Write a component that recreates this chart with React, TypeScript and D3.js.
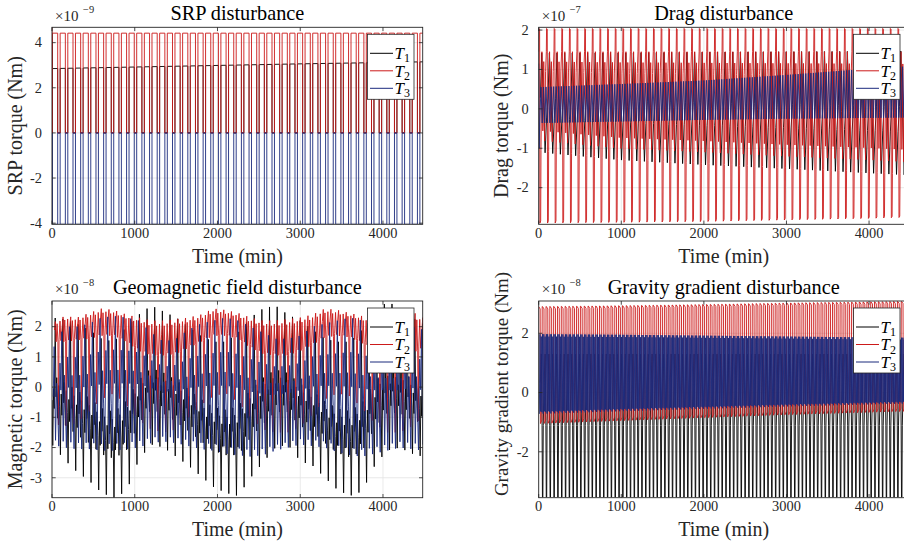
import React from "react";
import * as d3 from "d3";

// ---------------- common ----------------
const X_MAX = 4480;
const xTickValues = [0, 1000, 2000, 3000, 4000];
const seriesColors = ["#000000", "#cc1a1a", "#1b2a7d"];
const legendIndex = ["1", "2", "3"];

// ---------------- SRP disturbance (x1e-9 Nm) ----------------
const srpYDomain = [-4.05, 4.68];
const srpYTicks = [-4, -2, 0, 2, 4];
const srpPeriod = 92.5;
const srpSunFraction = 0.68;
const srpKnots = [0, 1000, 2000, 3000, 4000, 4480];
const srpZero = [0, 0, 0, 0, 0, 0];
const srpT1On = [2.85, 2.92, 2.99, 3.06, 3.12, 3.15];
const srpT2On = [4.42, 4.42, 4.42, 4.42, 4.42, 4.42];
const srpT3On = [-4.05, -4.05, -4.05, -4.05, -4.05, -4.05];
const srpShape: [number, number][] = [[0, 0], [0, 1], [srpSunFraction, 1], [srpSunFraction, 0]];
const srpT1Lead: [number, number][] = [[0, 4.05], [4, 4.05], [4, 0]];
const srpT2Lead: [number, number][] = [[0, 4.68], [1, 0]];

// ---------------- Drag disturbance (x1e-7 Nm) ----------------
const dragYDomain = [-2.93, 2.07];
const dragYTicks = [-2, -1, 0, 1, 2];
const dragPeriod = 92.5;
const dragKnots = [0, 1000, 2000, 3000, 4000, 4480];
const dragT1Low = [-1.1, -1.3, -1.42, -1.52, -1.63, -1.68];
const dragT1High = [1.42, 1.42, 1.44, 1.45, 1.46, 1.47];
const dragT2Low = [-2.9, -2.88, -2.86, -2.82, -2.78, -2.75];
const dragT2LowerBand = [-1.05, -1.28, -1.38, -1.5, -1.6, -1.66];
const dragT2UpperBand = [1.45, 1.45, 1.45, 1.45, 1.45, 1.45];
const dragT2High = [2.04, 2.04, 2.04, 2.04, 2.04, 2.04];
const dragT3Low = [-0.36, -0.32, -0.28, -0.25, -0.23, -0.22];
const dragT3High = [0.55, 0.63, 0.72, 0.86, 1.02, 1.08];
const dragT1Shape: [number, number][] = [[0, 0.55], [0.18, 1], [0.42, 0.5], [0.62, 0], [0.82, 0.35]];
const dragT2Shape: [number, number][] = [[0, 2], [0.03, 3], [0.12, 2.97], [0.16, 0], [0.26, 0.03], [0.3, 1], [0.42, 2], [0.54, 1.2], [0.66, 1.9], [0.78, 1.1], [0.9, 1.8]];
const dragT3Shape: [number, number][] = [[0, 0], [0.17, 1], [0.33, 0], [0.5, 1], [0.67, 0], [0.83, 1]];
const dragT3Lead: [number, number][] = [[0, 1.15], [6, -1.0]];

// ---------------- Geomagnetic field disturbance (x1e-8 Nm) ----------------
const magYDomain = [-3.66, 2.85];
const magYTicks = [-3, -2, -1, 0, 1, 2];
const magPeriod = 92.5;
const magKnots = [0, 150, 300, 450, 600, 750, 900, 1050, 1200, 1350, 1500, 1650, 1800, 1950, 2100, 2250,
  2400, 2550, 2700, 2850, 3000, 3150, 3300, 3450, 3600, 3750, 3900, 4050, 4200, 4350, 4480];
const magT1Low = [-1.9, -2.4, -2.8, -3.1, -3.5, -3.66, -3.45, -2.4, -1.9, -2.0, -2.3, -2.6, -2.95, -3.3, -3.5, -3.6,
  -3.0, -2.5, -2.0, -1.9, -2.45, -2.6, -3.0, -3.4, -3.6, -3.45, -2.6, -2.1, -2.0, -2.2, -2.3];
const magT1High = [2.3, 2.25, 2.1, 1.9, 1.6, 1.5, 2.0, 2.4, 2.7, 2.5, 2.3, 2.0, 1.7, 1.5, 1.5, 1.8,
  2.3, 2.6, 2.7, 2.4, 2.2, 1.9, 1.6, 1.5, 1.5, 1.9, 2.4, 2.85, 2.6, 2.3, 2.1];
const magT2Dip = [-1.2, -1.3, -1.2, -0.8, -0.4, -0.2, -0.6, -1.1, -1.4, -1.5, -1.4, -1.0, -0.6, -0.3, -0.2, -0.5,
  -1.0, -1.4, -1.5, -1.5, -1.3, -0.9, -0.4, -0.2, -0.3, -0.7, -1.2, -1.5, -1.5, -1.3, -1.0];
const magT2Trough = [1.5, 1.5, 1.55, 1.6, 1.7, 1.7, 1.5, 1.2, 1.05, 1.05, 1.1, 1.3, 1.5, 1.7, 1.7, 1.6,
  1.3, 1.1, 1.05, 1.05, 1.2, 1.4, 1.65, 1.7, 1.65, 1.45, 1.2, 1.05, 1.05, 1.15, 1.25];
const magT2High = [2.1, 2.35, 2.3, 2.45, 2.6, 2.55, 2.4, 2.3, 2.2, 2.2, 2.25, 2.3, 2.4, 2.6, 2.55, 2.45,
  2.3, 2.2, 2.2, 2.25, 2.3, 2.4, 2.6, 2.55, 2.45, 2.35, 2.2, 2.2, 2.35, 2.5, 2.3];
const magT3Low = [-1.9, -2.0, -2.05, -2.05, -2.1, -2.1, -2.05, -2.0, -1.85, -1.8, -1.85, -1.95, -2.05, -2.1, -2.2, -2.25,
  -2.3, -2.25, -2.1, -2.0, -1.9, -1.95, -2.0, -2.15, -2.25, -2.3, -2.2, -2.1, -2.0, -2.05, -2.1];
const magT3High = [1.2, 2.0, 2.0, 2.1, 2.3, 2.35, 2.3, 2.2, 1.8, 1.5, 1.6, 1.9, 2.1, 2.2, 2.3, 2.2,
  2.0, 1.8, 1.6, 1.6, 1.7, 2.0, 2.1, 2.2, 2.3, 2.2, 2.0, 1.9, 1.8, 2.0, 1.9];
const magT1Shape: [number, number][] = [[0, 0.35], [0.1, 0], [0.2, 0.45], [0.3, 0.3], [0.42, 1], [0.52, 0.4], [0.62, 0.55], [0.75, 0.25], [0.87, 0.5]];
const magT2Shape: [number, number][] = [[0, 1.6], [0.12, 2], [0.22, 1], [0.34, 1.85], [0.45, 1], [0.52, 0], [0.6, 1.1], [0.72, 1.9], [0.84, 1.05]];
const magT3Shape: [number, number][] = [[0, 0.5], [0.12, 1], [0.3, 0.05], [0.45, 0.6], [0.58, 0.35], [0.72, 0], [0.88, 0.75]];

// ---------------- Gravity gradient disturbance (x1e-8 Nm) ----------------
const ggYDomain = [-3.55, 3.09];
const ggYTicks = [-2, 0, 2];
const ggPeriod = 46.25;
const ggKnots = [0, 1000, 2000, 3000, 4000, 4480];
const ggT1Low = [-3.53, -3.53, -3.53, -3.53, -3.53, -3.53];
const ggT1High = [1.3, 1.3, 1.3, 1.3, 1.3, 1.3];
const ggT2Low = [-1.05, -0.95, -0.85, -0.75, -0.67, -0.63];
const ggT2High = [2.9, 2.93, 2.97, 3.02, 3.06, 3.08];
const ggT3Low = [-0.72, -0.63, -0.55, -0.47, -0.4, -0.37];
const ggT3High = [1.97, 1.95, 1.92, 1.89, 1.86, 1.85];
const ggT1Shape: [number, number][] = [[0, 0.8], [0.25, 1], [0.45, 0.5], [0.55, 0], [0.66, 0], [0.76, 0.5]];
const ggT2Shape: [number, number][] = [[0, 1], [0.38, 0.98], [0.46, 0], [0.84, 0.03], [0.92, 1]];
const ggT3Shape: [number, number][] = [[0, 0], [0.17, 1], [0.33, 0.03], [0.5, 0.97], [0.67, 0.02], [0.83, 1]];

// ---------------- helpers ----------------
interface SeriesSpec {
  knots: number[];
  envs: number[][];
  shape: [number, number][];
  period: number;
  start: number;
  lead?: [number, number][];
}

function buildPoints(s: SeriesSpec): [number, number][] {
  const scales = s.envs.map((e) => d3.scaleLinear().domain(s.knots).range(e).clamp(true));
  const pts: [number, number][] = s.lead ? s.lead.slice() : [];
  const n = Math.ceil((X_MAX - s.start) / s.period) + 1;
  for (let k = 0; k < n; k++) {
    for (const [ph, lev] of s.shape) {
      const t = s.start + (k + ph) * s.period;
      const i = Math.min(Math.floor(lev), scales.length - 2);
      const f = lev - i;
      const v = scales[i](t) * (1 - f) + scales[i + 1](t) * f;
      pts.push([t, v]);
    }
  }
  return pts;
}

interface Box { x0: number; x1: number; y0: number; y1: number; }

interface PanelProps {
  id: string;
  box: Box;
  yDomain: number[];
  yTicks: number[];
  title: string;
  ylabel: string;
  ylabelY?: number;
  ylabelSize?: number;
  exponent: string;
  series: SeriesSpec[];
}

const FONT = "'Liberation Serif', 'DejaVu Serif', serif";
const AXIS = "#262626";

function Panel(p: PanelProps) {
  const { box } = p;
  const x = d3.scaleLinear().domain([0, X_MAX]).range([box.x0, box.x1]);
  const y = d3.scaleLinear().domain(p.yDomain).range([box.y1, box.y0]);
  const line = d3.line<[number, number]>().x((d) => x(d[0])).y((d) => y(d[1]));
  const tl = 3.7;
  const cx = (box.x0 + box.x1) / 2;
  const cy = (box.y0 + box.y1) / 2;
  const lw = 46.5, lh = 65;
  const lx = box.x1 - 8.7 - lw;
  const ly = box.y0 + 7;
  return (
    <g style={{ fontFamily: FONT }}>
      <defs>
        <clipPath id={"clip-" + p.id}>
          <rect x={box.x0} y={box.y0} width={box.x1 - box.x0} height={box.y1 - box.y0} />
        </clipPath>
      </defs>
      <rect x={box.x0} y={box.y0} width={box.x1 - box.x0} height={box.y1 - box.y0} fill="#fff" />
      {xTickValues.map((t) => (
        <line key={"gx" + t} x1={x(t)} x2={x(t)} y1={box.y0} y2={box.y1} stroke="#e3e3e3" strokeWidth={0.8} />
      ))}
      {p.yTicks.map((t) => (
        <line key={"gy" + t} x1={box.x0} x2={box.x1} y1={y(t)} y2={y(t)} stroke="#e3e3e3" strokeWidth={0.8} />
      ))}
      <g clipPath={`url(#clip-${p.id})`}>
        {p.series.map((s, i) => (
          <path key={i} d={line(buildPoints(s)) || ""} fill="none" stroke={seriesColors[i]} strokeWidth={0.9} strokeLinejoin="round" />
        ))}
      </g>
      <rect x={box.x0} y={box.y0} width={box.x1 - box.x0} height={box.y1 - box.y0} fill="none" stroke={AXIS} strokeWidth={0.9} />
      {xTickValues.map((t) => (
        <g key={"tx" + t}>
          <line x1={x(t)} x2={x(t)} y1={box.y1} y2={box.y1 - tl} stroke={AXIS} strokeWidth={0.8} />
          <line x1={x(t)} x2={x(t)} y1={box.y0} y2={box.y0 + tl} stroke={AXIS} strokeWidth={0.8} />
          <text x={x(t)} y={box.y1 + 13.3} fontSize={14.4} textAnchor="middle" fill={AXIS}>{t}</text>
        </g>
      ))}
      {p.yTicks.map((t) => (
        <g key={"ty" + t}>
          <line x1={box.x0} x2={box.x0 + tl} y1={y(t)} y2={y(t)} stroke={AXIS} strokeWidth={0.8} />
          <line x1={box.x1} x2={box.x1 - tl} y1={y(t)} y2={y(t)} stroke={AXIS} strokeWidth={0.8} />
          <text x={box.x0 - 10} y={y(t) + 4.8} fontSize={14.4} textAnchor="end" fill={AXIS}>{String(t)}</text>
        </g>
      ))}
      <text x={box.x0 + 3} y={box.y0 - 6.8} fontSize={15} fill={AXIS}>×10</text>
      <text x={box.x0 + 31} y={box.y0 - 14.8} fontSize={10.5} fill={AXIS}>{p.exponent}</text>
      <text x={cx} y={box.y0 - 7.5} fontSize={20.3} textAnchor="middle" fill="#000">{p.title}</text>
      <text x={cx} y={box.y1 + 38.5} fontSize={20} textAnchor="middle" fill={AXIS}>Time (min)</text>
      <text transform={`translate(${box.x0 - 30.5},${p.ylabelY ?? cy}) rotate(-90)`} fontSize={p.ylabelSize ?? 20} textAnchor="middle" fill={AXIS}>{p.ylabel}</text>
      <rect x={lx} y={ly} width={lw} height={lh} fill="#fff" stroke={AXIS} strokeWidth={0.8} />
      {legendIndex.map((n, i) => {
        const ry = ly + 19 + i * 17.5;
        return (
          <g key={"lg" + n}>
            <line x1={lx + 2.5} x2={lx + 25.5} y1={ry} y2={ry} stroke={seriesColors[i]} strokeWidth={1} />
            <text x={lx + 27} y={ry + 5.8} fontSize={17} fontStyle="italic" fill="#000">T</text>
            <text x={lx + 36.5} y={ry + 9} fontSize={12} fill="#000">{n}</text>
          </g>
        );
      })}
    </g>
  );
}

export default function App() {
  const tl: Box = { x0: 52, x1: 422.7, y0: 27.3, y1: 224.3 };
  const tr: Box = { x0: 538.7, x1: 908.7, y0: 27.3, y1: 224.3 };
  const bl: Box = { x0: 52, x1: 422.7, y0: 301, y1: 497.7 };
  const br: Box = { x0: 538.7, x1: 908.7, y0: 301, y1: 497.7 };

  const srpSeries: SeriesSpec[] = [
    { knots: srpKnots, envs: [srpZero, srpT1On], shape: srpShape, period: srpPeriod, start: 6, lead: srpT1Lead },
    { knots: srpKnots, envs: [srpZero, srpT2On], shape: srpShape, period: srpPeriod, start: 6, lead: srpT2Lead },
    { knots: srpKnots, envs: [srpZero, srpT3On], shape: srpShape, period: srpPeriod, start: 6 },
  ];
  const dragSeries: SeriesSpec[] = [
    { knots: dragKnots, envs: [dragT1Low, dragT1High], shape: dragT1Shape, period: dragPeriod, start: 20 },
    { knots: dragKnots, envs: [dragT2Low, dragT2LowerBand, dragT2UpperBand, dragT2High], shape: dragT2Shape, period: dragPeriod, start: 0 },
    { knots: dragKnots, envs: [dragT3Low, dragT3High], shape: dragT3Shape, period: dragPeriod, start: 12, lead: dragT3Lead },
  ];
  const magSeries: SeriesSpec[] = [
    { knots: magKnots, envs: [magT1Low, magT1High], shape: magT1Shape, period: magPeriod, start: 0 },
    { knots: magKnots, envs: [magT2Dip, magT2Trough, magT2High], shape: magT2Shape, period: magPeriod, start: 30 },
    { knots: magKnots, envs: [magT3Low, magT3High], shape: magT3Shape, period: magPeriod, start: 15 },
  ];
  const ggSeries: SeriesSpec[] = [
    { knots: ggKnots, envs: [ggT1Low, ggT1High], shape: ggT1Shape, period: ggPeriod, start: 20 },
    { knots: ggKnots, envs: [ggT2Low, ggT2High], shape: ggT2Shape, period: ggPeriod, start: 0 },
    { knots: ggKnots, envs: [ggT3Low, ggT3High], shape: ggT3Shape, period: ggPeriod, start: 8 },
  ];

  return (
    <div style={{ position: "absolute", left: 0, top: 0 }}>
      <svg width={904} height={549} viewBox="0 0 904 549" style={{ display: "block", background: "#fff" }}>
        <rect x={0} y={0} width={904} height={549} fill="#fff" />
        <Panel id="srp" box={tl} yDomain={srpYDomain} yTicks={srpYTicks} title="SRP disturbance" ylabel="SRP torque (Nm)" exponent="−9" series={srpSeries} />
        <Panel id="drag" box={tr} yDomain={dragYDomain} yTicks={dragYTicks} title="Drag disturbance" ylabel="Drag torque (Nm)" exponent="−7" series={dragSeries} />
        <Panel id="mag" box={bl} yDomain={magYDomain} yTicks={magYTicks} title="Geomagnetic field disturbance" ylabel="Magnetic torque (Nm)" exponent="−8" series={magSeries} />
        <Panel id="gg" box={br} yDomain={ggYDomain} yTicks={ggYTicks} title="Gravity gradient disturbance" ylabel="Gravity gradient torque (Nm)" ylabelY={384} ylabelSize={19} exponent="−8" series={ggSeries} />
      </svg>
    </div>
  );
}
